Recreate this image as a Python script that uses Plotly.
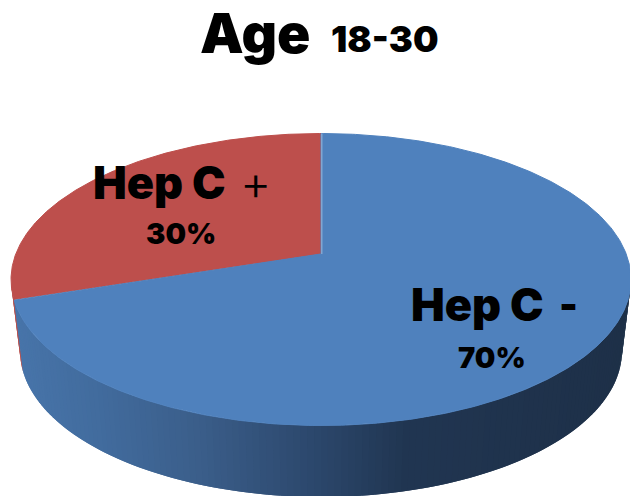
import numpy as np
import plotly.graph_objects as go

# --- data ---
categories = ["Hep C -", "Hep C +"]
values = [70, 30]
colors = ["#4f81bd", "#bd4f4c"]
title_main = "Age"
title_sub = "18-30"

# --- drawing geometry (pixels in a 630x496 plot) ---
W, H = 630, 496
CX, TOP_CY, TOP_RX, RY = 321, 279.5, 310, 146
BOT_CY, BOT_RX = 351, 301
TILT = 0.175  # perspective shift of the hub


def rim(frac):
    """Perspective projection of a circle point, frac clockwise from 12 o'clock."""
    a = 2 * np.pi * np.asarray(frac, dtype=float)
    u, v = np.sin(a), np.cos(a)
    d = 1 + TILT * v
    return CX + TOP_RX * u * np.sqrt(1 - TILT**2) / d, TOP_CY - RY * (v + TILT) / d


fig = go.Figure()
hub_x, hub_y = CX, TOP_CY - RY * TILT
fractions = np.array(values) / sum(values)
edge = np.cumsum(fractions)
split_y = rim(edge[0])[1]
split_theta = np.arcsin((split_y - TOP_CY) / RY)

# side wall: overlapping strips painted left to right, so no seams show
grad_x = [20, 100, 200, 320, 400, 630]
grad_c = [(72, 117, 170), (66, 108, 158), (59, 94, 138), (43, 70, 106), (33, 54, 82), (30, 48, 72)]
N = 140
thetas = np.linspace(0, np.pi, N + 1)
for i in range(N):
    tt = np.linspace(thetas[i], thetas[min(i + 2, N)], 3)
    xt = CX - TOP_RX * np.cos(tt)
    yt = TOP_CY + RY * np.sin(tt)
    xb = CX - BOT_RX * np.cos(tt)
    yb = BOT_CY + RY * np.sin(tt)
    if thetas[i + 1] <= split_theta + 1e-9:
        col = "#b54a47"
    else:
        m = xb[0]
        c = [np.interp(m, grad_x, [g[k] for g in grad_c]) for k in range(3)]
        col = "rgb(%d,%d,%d)" % tuple(c)
    fig.add_trace(go.Scatter(
        x=np.r_[xt, xb[::-1], xt[0]], y=np.r_[yt, yb[::-1], yt[0]],
        mode="lines", fill="toself", fillcolor=col, line=dict(width=0),
        hoverinfo="skip", showlegend=False))

# top faces: second slice first, so the first slice's edge closes the seam between them
bounds = np.r_[0, edge]
for idx in [1, 0]:
    f = np.linspace(bounds[idx], bounds[idx + 1], 400)
    xs, ys = rim(f)
    fig.add_trace(go.Scatter(
        x=np.r_[hub_x, xs, hub_x], y=np.r_[hub_y, ys, hub_y], mode="lines", fill="toself",
        fillcolor=colors[idx], line=dict(color=colors[idx], width=1), name=categories[idx],
        hoverinfo="skip", showlegend=False))

# light seam at the 12 o'clock edge
fig.add_trace(go.Scatter(x=[hub_x + 0.8, hub_x + 0.8], y=[hub_y, TOP_CY - RY], mode="lines",
                         line=dict(color="#8fb0d6", width=1.2), hoverinfo="skip", showlegend=False))

FONT = "Inter"


def label(x, y, text, size, weight=900, anchor="left"):
    fig.add_annotation(x=x, y=y, text=text, showarrow=False, xanchor=anchor, yanchor="middle",
                       font=dict(family=FONT, size=size, color="black", weight=weight))


label(198, 33, title_main, 55)
label(329, 39, title_sub, 36)
label(91, 182, categories[1][:-2], 45)
label(238, 182, categories[1][-1], 48, 300)
label(181, 233, f"{values[1]}%", 29, 900, "center")
label(409, 304, categories[0][:-2], 45)
label(557, 304, categories[0][-1], 40, 900)
label(492, 357, f"{values[0]}%", 29, 900, "center")

fig.update_layout(
    width=W, height=H, margin=dict(l=0, r=0, t=0, b=0), autosize=False,
    paper_bgcolor="white", plot_bgcolor="white",
    xaxis=dict(range=[0, W], visible=False, fixedrange=True),
    yaxis=dict(range=[H, 0], visible=False, fixedrange=True),
)
fig.write_html("out.html", config={"displayModeBar": False},
               post_script="document.body.style.margin='0';document.body.style.overflow='hidden';")
